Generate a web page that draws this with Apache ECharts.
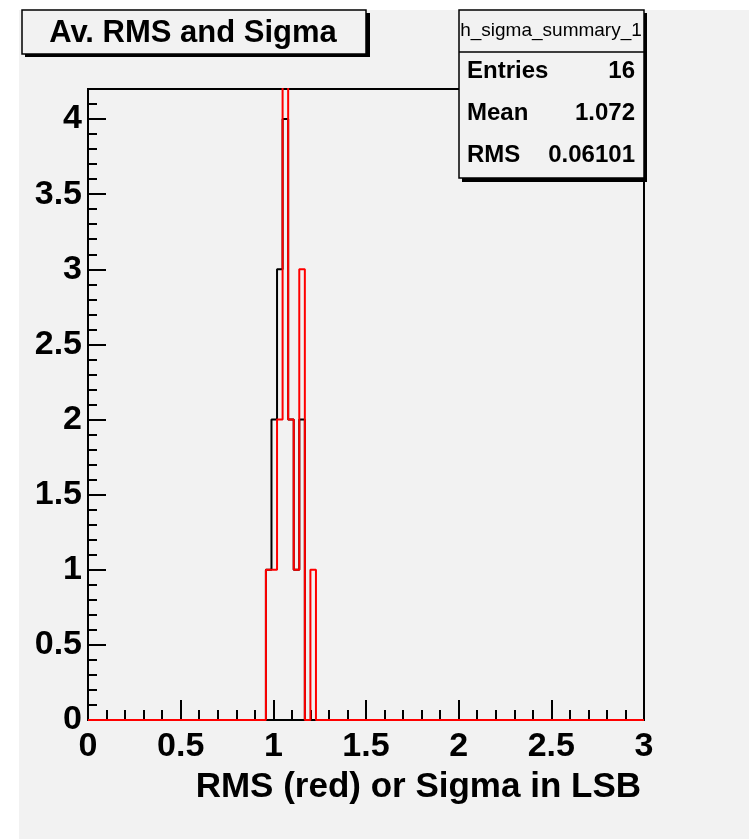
<!DOCTYPE html>
<html>
<head>
<meta charset="utf-8">
<script src="https://cdn.jsdelivr.net/npm/echarts@6/dist/echarts.min.js"></script>
<style>
html,body{margin:0;padding:0;background:#ffffff;}
#chart{width:749px;height:839px;}
</style>
</head>
<body>
<div id="chart"></div>
<script>
// ---- data ----
const chartTitle = 'Av. RMS and Sigma';
const xTitle = 'RMS (red) or Sigma in LSB';
const statsName = 'h_sigma_summary_1';
const statsLabels = ['Entries', 'Mean', 'RMS'];
const statsValues = ['16', '1.072', '0.06101'];
// histogram binning (first visible non-empty bin edge and bin width)
const binStart = 0.96;
const binWidth = 0.03;
// counts per bin starting at binStart
const sigmaCounts = [1, 2, 3, 4, 2, 1, 2, 0, 0];   // black
const rmsCounts   = [1, 1, 2, 5, 2, 1, 3, 0, 1];   // red (peak clipped by frame)
const xMin = 0, xMax = 3, yMin = 0, yMax = 4.2;

function stepData(counts) {
  const pts = [[xMin, 0]];
  for (let i = 0; i < counts.length; i++) {
    pts.push([+(binStart + i * binWidth).toFixed(4), counts[i]]);
  }
  pts.push([+(binStart + counts.length * binWidth).toFixed(4), 0]);
  pts.push([xMax, 0]);
  return pts;
}

const FONT = '"Liberation Sans", Arial, Helvetica, sans-serif';
const chart = echarts.init(document.getElementById('chart'), null, {renderer: 'canvas'});

const gridL = 88, gridT = 89, gridR = 105, gridB = 119;

const option = {
  animation: false,
  backgroundColor: '#f2f2f2',
  grid: {left: gridL, top: gridT, right: gridR, bottom: gridB, show: true,
         borderColor: '#000', borderWidth: 2, backgroundColor: 'transparent', containLabel: false},
  xAxis: {
    type: 'value', min: xMin, max: xMax, interval: 0.5,
    axisLine: {show: true, onZero: false, lineStyle: {color: '#000', width: 2}},
    axisTick: {show: true, inside: true, length: 20, lineStyle: {color: '#000', width: 2}},
    minorTick: {show: true, splitNumber: 5, length: 10, lineStyle: {color: '#000', width: 2}},
    splitLine: {show: false},
    axisLabel: {color: '#000', fontFamily: FONT, fontWeight: 'bold', fontSize: 34, margin: 10,
                showMinLabel: true, showMaxLabel: true}
  },
  yAxis: {
    type: 'value', min: yMin, max: yMax, interval: 0.5,
    axisLine: {show: true, onZero: false, lineStyle: {color: '#000', width: 2}},
    axisTick: {show: true, inside: true, length: 18, lineStyle: {color: '#000', width: 2}},
    minorTick: {show: true, splitNumber: 5, length: 9, lineStyle: {color: '#000', width: 2}},
    splitLine: {show: false},
    axisLabel: {color: '#000', fontFamily: FONT, fontWeight: 'bold', fontSize: 34, margin: 6,
                showMaxLabel: false}
  },
  series: [
    {name: 'Sigma', type: 'line', step: 'end', data: stepData(sigmaCounts), symbol: 'none',
     clip: true, lineStyle: {color: '#000', width: 2}},
    {name: 'RMS', type: 'line', step: 'end', data: stepData(rmsCounts), symbol: 'none',
     clip: true, lineStyle: {color: '#ff0000', width: 2}}
  ],
  graphic: [
    // white margins
    {type: 'rect', left: 0, top: 0, shape: {width: 19, height: 839}, style: {fill: '#ffffff'}, z: 100},
    {type: 'rect', left: 0, top: 0, shape: {width: 749, height: 10}, style: {fill: '#ffffff'}, z: 100},
    // title box shadow + box
    {type: 'rect', shape: {x: 25, y: 13, width: 345, height: 44}, style: {fill: '#000'}, z: 101},
    {type: 'rect', shape: {x: 22, y: 10, width: 344, height: 44}, style: {fill: '#f2f2f2', stroke: '#000', lineWidth: 1.5}, z: 102},
    {type: 'text', x: 193, y: 33, style: {text: chartTitle, fill: '#000', font: 'bold 31px ' + FONT,
      align: 'center', verticalAlign: 'middle'}, z: 103},
    // stats box shadow + box
    {type: 'rect', shape: {x: 462, y: 13, width: 185, height: 169}, style: {fill: '#000'}, z: 101},
    {type: 'rect', shape: {x: 459, y: 10, width: 185, height: 168}, style: {fill: '#f2f2f2', stroke: '#000', lineWidth: 1.5}, z: 102},
    {type: 'line', shape: {x1: 459, y1: 52, x2: 644, y2: 52}, style: {stroke: '#000', lineWidth: 1.5}, z: 103},
    {type: 'text', x: 551, y: 31, style: {text: statsName, fill: '#000', font: '19px ' + FONT,
      align: 'center', verticalAlign: 'middle'}, z: 103},
    {type: 'text', x: 467, y: 71, style: {text: statsLabels[0], fill: '#000', font: 'bold 24px ' + FONT, align: 'left', verticalAlign: 'middle'}, z: 103},
    {type: 'text', x: 467, y: 113, style: {text: statsLabels[1], fill: '#000', font: 'bold 24px ' + FONT, align: 'left', verticalAlign: 'middle'}, z: 103},
    {type: 'text', x: 467, y: 155, style: {text: statsLabels[2], fill: '#000', font: 'bold 24px ' + FONT, align: 'left', verticalAlign: 'middle'}, z: 103},
    {type: 'text', x: 635, y: 71, style: {text: statsValues[0], fill: '#000', font: 'bold 24px ' + FONT, align: 'right', verticalAlign: 'middle'}, z: 103},
    {type: 'text', x: 635, y: 113, style: {text: statsValues[1], fill: '#000', font: 'bold 24px ' + FONT, align: 'right', verticalAlign: 'middle'}, z: 103},
    {type: 'text', x: 635, y: 155, style: {text: statsValues[2], fill: '#000', font: 'bold 24px ' + FONT, align: 'right', verticalAlign: 'middle'}, z: 103},
    // x axis title
    {type: 'text', x: 641, y: 787, style: {text: xTitle, fill: '#000', font: 'bold 35px ' + FONT,
      align: 'right', verticalAlign: 'middle'}, z: 103}
  ]
};
chart.setOption(option);
</script>
</body>
</html>
